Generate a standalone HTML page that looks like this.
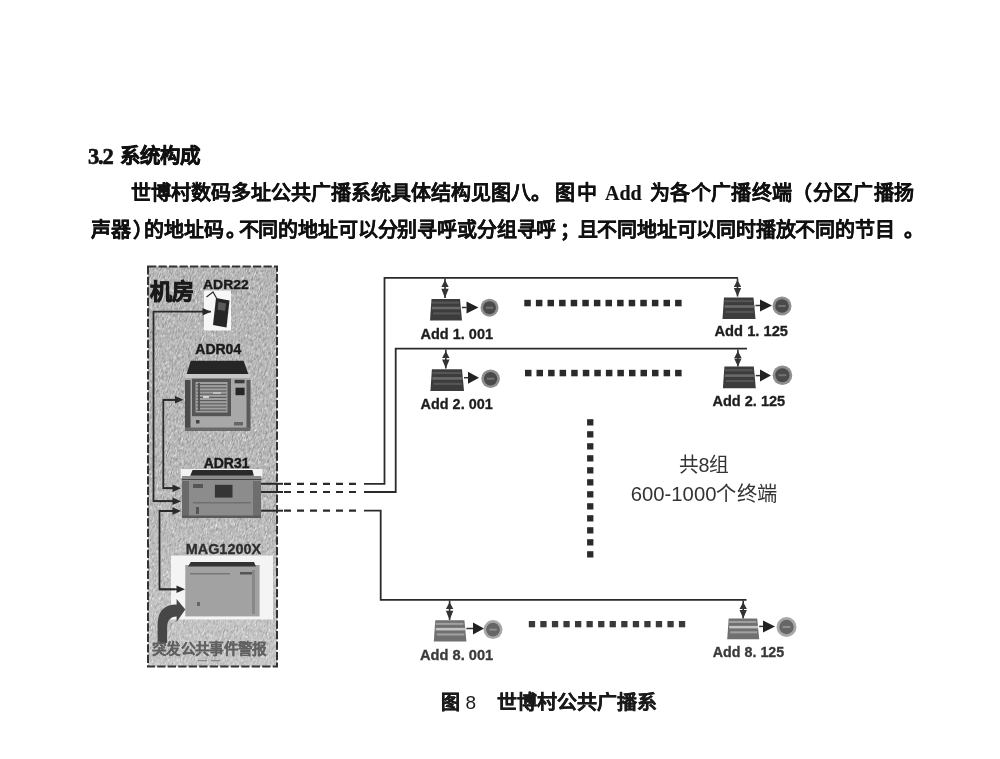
<!DOCTYPE html>
<html lang="zh-CN"><head><meta charset="utf-8">
<style>
html,body{margin:0;padding:0;background:#fff;}
body{width:1000px;height:759px;position:relative;overflow:hidden;filter:grayscale(1) blur(0.4px);font-family:"Liberation Serif",serif;color:#111;}
.t{position:absolute;white-space:nowrap;line-height:1;}
.h{font-weight:bold;font-size:20px;-webkit-text-stroke:0.6px #111;}
.b{font-weight:bold;font-size:20px;-webkit-text-stroke:0.2px #111;}
svg{position:absolute;left:0;top:0;}
</style></head><body>
<div class="t h" style="left:88px;top:146px;font-size:22.5px;letter-spacing:-1.2px;">3.2</div><div class="t h" style="left:119.5px;top:145.5px;font-size:20.5px;">系统构成</div>
<div class="t b" style="left:131px;top:183px;">世博村数码多址公共广播系统具体结构见图八。</div>
<div class="t b" style="left:555px;top:183px;letter-spacing:1.5px;">图中</div>
<div class="t b" style="left:605px;top:183px;">Add</div>
<div class="t b" style="left:650px;top:183px;letter-spacing:0.35px;">为各个广播终端（分区广播扬</div>
<div class="t b" style="left:91px;top:220px;">声器</div>
<div class="t b" style="left:133px;top:220px;">）</div>
<div class="t b" style="left:143.5px;top:220px;">的地址码</div>
<div class="t b" style="left:226px;top:220px;">。</div>
<div class="t b" style="left:238.5px;top:220px;letter-spacing:-0.14px;">不同的地址可以分别寻呼或分组寻呼</div>
<div class="t b" style="left:560px;top:220px;">；</div>
<div class="t b" style="left:577.5px;top:220px;letter-spacing:-0.2px;">且不同地址可以同时播放不同的节目</div>
<div class="t b" style="left:904px;top:220px;">。</div>
<svg width="1000" height="759" viewBox="0 0 1000 759">
<defs><clipPath id="boxclip"><rect x="148" y="266.5" width="129" height="400"/></clipPath><filter id="nz" x="0" y="0" width="100%" height="100%" color-interpolation-filters="sRGB"><feTurbulence type="fractalNoise" baseFrequency="0.9 0.3" numOctaves="2" seed="5"/><feColorMatrix type="matrix" values="0.33 0.33 0.33 0 0  0.33 0.33 0.33 0 0  0.33 0.33 0.33 0 0  0 0 0 0 1"/><feComponentTransfer><feFuncR type="linear" slope="1.0" intercept="0.22"/><feFuncG type="linear" slope="1.0" intercept="0.22"/><feFuncB type="linear" slope="1.0" intercept="0.22"/></feComponentTransfer></filter></defs>
<g clip-path="url(#boxclip)"><g transform="rotate(18 212 466)"><rect x="60" y="230" width="310" height="480" fill="#fff" filter="url(#nz)"/></g></g>
<linearGradient id="lg" x1="0" y1="0" x2="0" y2="1"><stop offset="0" stop-color="#fff" stop-opacity="0"/><stop offset="0.55" stop-color="#fff" stop-opacity="0.02"/><stop offset="1" stop-color="#fff" stop-opacity="0.22"/></linearGradient>
<rect x="148" y="266.5" width="129" height="400" fill="url(#lg)"/>
<rect x="148" y="266.5" width="129" height="400" fill="none" stroke="#333" stroke-width="2" stroke-dasharray="8.3,2.2"/>
<text x="150" y="299" font-family="Liberation Sans, sans-serif" font-weight="bold" font-size="22" fill="#1a1a1a" stroke="#1a1a1a" stroke-width="0.9">机房</text>
<text x="203" y="288.7" font-family="Liberation Sans, sans-serif" font-weight="bold" font-size="13.5" fill="#1a1a1a" stroke="#1a1a1a" stroke-width="0.4" textLength="45.7" lengthAdjust="spacingAndGlyphs">ADR22</text>
<rect x="204" y="290.5" width="27" height="40" fill="#f7f7f7"/>
<polygon points="216,298 229.5,300.5 226.5,327.5 213,325" fill="#262626"/>
<polygon points="218.5,302 226,303.5 225,311 217.5,309.5" fill="#5a5a5a"/>
<polyline points="206.5,297 213,292 217,299" fill="none" stroke="#333" stroke-width="1.3"/>
<text x="195.3" y="354.3" font-family="Liberation Sans, sans-serif" font-weight="bold" font-size="14" fill="#1a1a1a" stroke="#1a1a1a" stroke-width="0.4" textLength="45.9" lengthAdjust="spacingAndGlyphs">ADR04</text>
<rect x="185" y="374" width="65.4" height="57" fill="#a8a8a8"/>
<polygon points="190.8,360.8 243.6,360.8 248.3,374 186.6,374" fill="#262626"/>
<rect x="185" y="374" width="65.4" height="4" fill="#c8c8c8"/>
<rect x="185" y="380" width="5.5" height="49" fill="#4a4a4a"/>
<rect x="246.5" y="380" width="4" height="49" fill="#5a5a5a"/>
<rect x="185" y="427.5" width="65.4" height="3.5" fill="#6a6a6a"/>
<rect x="192" y="378.7" width="39" height="37.5" fill="#555"/>
<rect x="195.5" y="382" width="32" height="30.5" fill="#a0a0a0"/>
<rect x="196.5" y="384.0" width="30" height="1.2" fill="#5e5e5e"/>
<rect x="196.5" y="387.2" width="30" height="1.2" fill="#5e5e5e"/>
<rect x="196.5" y="390.4" width="30" height="1.2" fill="#5e5e5e"/>
<rect x="196.5" y="393.6" width="30" height="1.2" fill="#5e5e5e"/>
<rect x="196.5" y="396.8" width="30" height="1.2" fill="#5e5e5e"/>
<rect x="196.5" y="400.0" width="30" height="1.2" fill="#5e5e5e"/>
<rect x="196.5" y="403.2" width="30" height="1.2" fill="#5e5e5e"/>
<rect x="196.5" y="406.4" width="30" height="1.2" fill="#5e5e5e"/>
<rect x="196.5" y="409.6" width="30" height="1.2" fill="#5e5e5e"/>
<rect x="198" y="383" width="2" height="28" fill="#555"/>
<rect x="203" y="396" width="6" height="2" fill="#d0d0d0"/>
<rect x="213" y="392" width="8" height="2" fill="#c0c0c0"/>
<rect x="234.6" y="379.8" width="10" height="3.5" fill="#3a3a3a"/>
<rect x="235.5" y="387.7" width="9.1" height="7.5" fill="#262626"/>
<rect x="196" y="420" width="3.5" height="3.5" fill="#444"/>
<rect x="234" y="422" width="9" height="3.5" fill="#666"/>
<text x="203.7" y="467.5" font-family="Liberation Sans, sans-serif" font-weight="bold" font-size="14" fill="#1a1a1a" stroke="#1a1a1a" stroke-width="0.4" textLength="45.8" lengthAdjust="spacingAndGlyphs">ADR31</text>
<rect x="180.7" y="469" width="81.7" height="9" fill="#f2f2f2"/>
<polygon points="192.6,470 252.4,470 253.8,475.8 190.2,475.8" fill="#2a2a2a"/>
<rect x="182" y="476" width="79.4" height="4" fill="#8a8a8a"/>
<rect x="182" y="479" width="79.4" height="1.2" fill="#444"/>
<rect x="182" y="480" width="79" height="38" fill="#8c8c8c"/>
<rect x="182" y="481" width="7" height="37" fill="#6a6a6a"/>
<rect x="253" y="481" width="8" height="37" fill="#6e6e6e"/>
<rect x="193" y="484" width="10" height="4" fill="#555"/>
<rect x="214.9" y="484.8" width="17.6" height="12.8" fill="#353535"/>
<rect x="193" y="502" width="58" height="1.5" fill="#707070"/>
<rect x="196" y="507" width="3" height="7" fill="#555"/>
<rect x="182" y="515.5" width="79" height="2.5" fill="#5a5a5a"/>
<text x="185.8" y="554.1" font-family="Liberation Sans, sans-serif" font-weight="bold" font-size="14" fill="#2e2e2e" stroke="#2e2e2e" stroke-width="0.3" textLength="75.2" lengthAdjust="spacingAndGlyphs">MAG1200X</text>
<rect x="171" y="555.5" width="102" height="64" fill="#f4f4f4"/>
<rect x="185.3" y="565" width="74.3" height="51.4" fill="#a2a2a2"/>
<polygon points="190.8,561.9 254,561.9 256,566.6 188,566.6" fill="#333"/>
<rect x="190" y="573" width="40" height="1.5" fill="#777"/>
<rect x="240" y="572" width="12" height="2.5" fill="#555"/>
<rect x="252" y="570" width="3" height="44" fill="#888"/>
<rect x="197" y="602" width="3" height="4" fill="#666"/>
<path d="M157.6,643 L157.6,625 Q157.6,604.5 176.6,604.5 L176.6,599 L185.3,609.5 L176.6,622 L176.6,616.4 Q167.1,616.4 167.1,628 L167.1,643 Z" fill="#474747"/>
<text x="152" y="653.5" font-family="Liberation Sans, sans-serif" font-weight="bold" font-size="14.3" fill="#606060" stroke="#606060" stroke-width="0.15" textLength="114.5" lengthAdjust="spacingAndGlyphs">突发公共事件警报</text>
<line x1="198" y1="660.6" x2="207" y2="660.6" stroke="#888" stroke-width="1.2"/>
<line x1="211" y1="660.6" x2="220" y2="660.6" stroke="#888" stroke-width="1.2"/>
<polyline points="211,311.7 153.5,311.7 153.5,501.2 175,501.2" fill="none" stroke="#2a2a2a" stroke-width="1.8"/>
<polygon points="202.5,307.9 211,311.7 202.5,315.5" fill="#2a2a2a"/>
<line x1="153.5" y1="501.2" x2="174" y2="501.2" stroke="#2a2a2a" stroke-width="1.8"/><polygon points="172.5,497.4 181,501.2 172.5,505.0" fill="#2a2a2a"/>
<polyline points="175,399.8 163.3,399.8 163.3,488.2 175,488.2" fill="none" stroke="#2a2a2a" stroke-width="1.8"/>
<line x1="163.3" y1="399.8" x2="176.5" y2="399.8" stroke="#2a2a2a" stroke-width="1.8"/><polygon points="175.0,396.0 183.5,399.8 175.0,403.6" fill="#2a2a2a"/>
<line x1="163.3" y1="488.2" x2="174" y2="488.2" stroke="#2a2a2a" stroke-width="1.8"/><polygon points="172.5,484.4 181,488.2 172.5,492.0" fill="#2a2a2a"/>
<polyline points="175,511 159.5,511 159.5,589.3 175,589.3" fill="none" stroke="#2a2a2a" stroke-width="1.8"/>
<line x1="159.5" y1="511" x2="174" y2="511" stroke="#2a2a2a" stroke-width="1.8"/><polygon points="172.5,507.2 181,511 172.5,514.8" fill="#2a2a2a"/>
<line x1="159.5" y1="589.3" x2="178" y2="589.3" stroke="#2a2a2a" stroke-width="1.8"/><polygon points="176.5,585.5 185,589.3 176.5,593.0999999999999" fill="#2a2a2a"/>
<line x1="261" y1="483.8" x2="283" y2="483.8" stroke="#2a2a2a" stroke-width="2"/>
<line x1="284" y1="483.8" x2="358" y2="483.8" stroke="#2a2a2a" stroke-width="2.2" stroke-dasharray="7,6"/>
<polyline points="364,483.8 384.5,483.8 384.5,277.8 738,277.8" fill="none" stroke="#2a2a2a" stroke-width="1.8"/>
<line x1="261" y1="492" x2="283" y2="492" stroke="#2a2a2a" stroke-width="2"/>
<line x1="284" y1="492" x2="358" y2="492" stroke="#2a2a2a" stroke-width="2.2" stroke-dasharray="7,6"/>
<polyline points="364,492 395.7,492 395.7,348.7 747,348.7" fill="none" stroke="#2a2a2a" stroke-width="1.8"/>
<line x1="261" y1="510.7" x2="283" y2="510.7" stroke="#2a2a2a" stroke-width="2"/>
<line x1="284" y1="510.7" x2="358" y2="510.7" stroke="#2a2a2a" stroke-width="2.2" stroke-dasharray="7,6"/>
<polyline points="364,510.7 380.7,510.7 380.7,599.8 746.5,599.8" fill="none" stroke="#2a2a2a" stroke-width="1.8"/>
<line x1="445" y1="278.5" x2="445" y2="298" stroke="#333" stroke-width="1.6"/>
<polygon points="441.3,287.0 448.7,287.0 445,280.0" fill="#333"/>
<polygon points="441.3,288.75 448.7,288.75 445,298" fill="#333"/>
<polygon points="441.8,287.75 448.2,287.75 445,294.25" fill="#333" opacity="0"/>
<polygon points="431.5,299 460,299 462,320.5 430,320.5" fill="#3c3c3c"/>
<rect x="432" y="301.58" width="27" height="2.15" fill="#555"/>
<rect x="432" y="306.74" width="29" height="2.58" fill="#6a6a6a"/>
<rect x="433" y="312.33" width="27" height="2.15" fill="#555"/>
<line x1="462" y1="307.5" x2="466.5" y2="307.5" stroke="#333" stroke-width="1.5"/>
<polygon points="466.5,301.5 466.5,313.5 478.5,307.5" fill="#222"/>
<circle cx="489.5" cy="307.7" r="9" fill="#8e8e8e"/>
<circle cx="489.5" cy="307.7" r="6.4799999999999995" fill="#4a4a4a"/>
<rect x="485.9" y="306.7" width="7.2" height="2" fill="#8e8e8e" opacity="0.6"/>
<text x="420.5" y="339" font-family="Liberation Sans, sans-serif" font-weight="bold" font-size="14.5" fill="#1e1e1e" stroke="#1e1e1e" stroke-width="0.3" textLength="72.5" lengthAdjust="spacingAndGlyphs">Add 1. 001</text>
<line x1="737.5" y1="278.5" x2="737.5" y2="296.5" stroke="#333" stroke-width="1.6"/>
<polygon points="733.8,287.0 741.2,287.0 737.5,280.0" fill="#333"/>
<polygon points="733.8,288.0 741.2,288.0 737.5,296.5" fill="#333"/>
<polygon points="734.3,287.0 740.7,287.0 737.5,293.5" fill="#333" opacity="0"/>
<polygon points="724.0,297.5 753.5,297.5 755.5,319 722.5,319" fill="#3c3c3c"/>
<rect x="724.5" y="300.08" width="28.0" height="2.15" fill="#555"/>
<rect x="724.5" y="305.24" width="30.0" height="2.58" fill="#6a6a6a"/>
<rect x="725.5" y="310.83" width="28.0" height="2.15" fill="#555"/>
<line x1="755.5" y1="305.5" x2="760" y2="305.5" stroke="#333" stroke-width="1.5"/>
<polygon points="760,299.5 760,311.5 772,305.5" fill="#222"/>
<circle cx="782" cy="306" r="9.5" fill="#8e8e8e"/>
<circle cx="782" cy="306" r="6.84" fill="#4a4a4a"/>
<rect x="778.2" y="305" width="7.6000000000000005" height="2" fill="#8e8e8e" opacity="0.6"/>
<text x="714.5" y="336" font-family="Liberation Sans, sans-serif" font-weight="bold" font-size="14.5" fill="#1e1e1e" stroke="#1e1e1e" stroke-width="0.3" textLength="73.5" lengthAdjust="spacingAndGlyphs">Add 1. 125</text>
<line x1="445.8" y1="349.5" x2="445.8" y2="368.5" stroke="#333" stroke-width="1.6"/>
<polygon points="442.1,358.0 449.5,358.0 445.8,351.0" fill="#333"/>
<polygon points="442.1,359.5 449.5,359.5 445.8,368.5" fill="#333"/>
<polygon points="442.6,358.5 449.0,358.5 445.8,365.0" fill="#333" opacity="0"/>
<polygon points="431.9,369.3 462,369.3 464,391 430.4,391" fill="#3c3c3c"/>
<rect x="432.4" y="371.904" width="28.600000000000023" height="2.169999999999999" fill="#555"/>
<rect x="432.4" y="377.112" width="30.600000000000023" height="2.6039999999999988" fill="#6a6a6a"/>
<rect x="433.4" y="382.754" width="28.600000000000023" height="2.169999999999999" fill="#555"/>
<line x1="464" y1="377.7" x2="468" y2="377.7" stroke="#333" stroke-width="1.5"/>
<polygon points="468,371.7 468,383.7 479,377.7" fill="#222"/>
<circle cx="490.6" cy="378.7" r="9.3" fill="#8e8e8e"/>
<circle cx="490.6" cy="378.7" r="6.696000000000001" fill="#4a4a4a"/>
<rect x="486.88" y="377.7" width="7.440000000000001" height="2" fill="#8e8e8e" opacity="0.6"/>
<text x="420.6" y="408.5" font-family="Liberation Sans, sans-serif" font-weight="bold" font-size="14.5" fill="#1e1e1e" stroke="#1e1e1e" stroke-width="0.3" textLength="72.1" lengthAdjust="spacingAndGlyphs">Add 2. 001</text>
<line x1="737.9" y1="349.5" x2="737.9" y2="366.5" stroke="#333" stroke-width="1.6"/>
<polygon points="734.1999999999999,358.0 741.6,358.0 737.9,351.0" fill="#333"/>
<polygon points="734.1999999999999,358.5 741.6,358.5 737.9,366.5" fill="#333"/>
<polygon points="734.6999999999999,357.5 741.1,357.5 737.9,364.0" fill="#333" opacity="0"/>
<polygon points="724.4,366.5 753.8,366.5 755.8,388.2 722.9,388.2" fill="#3c3c3c"/>
<rect x="724.9" y="369.104" width="27.899999999999977" height="2.169999999999999" fill="#555"/>
<rect x="724.9" y="374.312" width="29.899999999999977" height="2.6039999999999988" fill="#6a6a6a"/>
<rect x="725.9" y="379.954" width="27.899999999999977" height="2.169999999999999" fill="#555"/>
<line x1="755.8" y1="375.6" x2="760" y2="375.6" stroke="#333" stroke-width="1.5"/>
<polygon points="760,369.6 760,381.6 771,375.6" fill="#222"/>
<circle cx="782.4" cy="375.2" r="9.8" fill="#8e8e8e"/>
<circle cx="782.4" cy="375.2" r="7.056" fill="#4a4a4a"/>
<rect x="778.48" y="374.2" width="7.840000000000001" height="2" fill="#8e8e8e" opacity="0.6"/>
<text x="712.4" y="405.7" font-family="Liberation Sans, sans-serif" font-weight="bold" font-size="14.5" fill="#1e1e1e" stroke="#1e1e1e" stroke-width="0.3" textLength="72.8" lengthAdjust="spacingAndGlyphs">Add 2. 125</text>
<line x1="449.6" y1="600.5" x2="449.6" y2="620" stroke="#333" stroke-width="1.6"/>
<polygon points="445.90000000000003,609.0 453.3,609.0 449.6,602.0" fill="#333"/>
<polygon points="445.90000000000003,610.75 453.3,610.75 449.6,620" fill="#333"/>
<polygon points="446.40000000000003,609.75 452.8,609.75 449.6,616.25" fill="#333" opacity="0"/>
<polygon points="435.3,620.2 464.4,620.2 466.4,641.5 433.8,641.5" fill="#707070"/>
<rect x="435.8" y="622.7560000000001" width="27.599999999999966" height="2.1299999999999955" fill="#a0a0a0"/>
<rect x="435.8" y="627.868" width="29.599999999999966" height="2.5559999999999943" fill="#c4c4c4"/>
<rect x="436.8" y="633.4060000000001" width="27.599999999999966" height="2.1299999999999955" fill="#a0a0a0"/>
<line x1="466.4" y1="628.5" x2="473" y2="628.5" stroke="#333" stroke-width="1.5"/>
<polygon points="473,622.5 473,634.5 484,628.5" fill="#222"/>
<circle cx="493" cy="629.6" r="9.5" fill="#a8a8a8"/>
<circle cx="493" cy="629.6" r="6.84" fill="#666"/>
<rect x="489.2" y="628.6" width="7.6000000000000005" height="2" fill="#a8a8a8" opacity="0.6"/>
<text x="420" y="660.2" font-family="Liberation Sans, sans-serif" font-weight="bold" font-size="14.5" fill="#3a3a3a" stroke="#3a3a3a" stroke-width="0.3" textLength="73.2" lengthAdjust="spacingAndGlyphs">Add 8. 001</text>
<line x1="743.2" y1="600.5" x2="743.2" y2="618.4" stroke="#333" stroke-width="1.6"/>
<polygon points="739.5,609.0 746.9000000000001,609.0 743.2,602.0" fill="#333"/>
<polygon points="739.5,609.95 746.9000000000001,609.95 743.2,618.4" fill="#333"/>
<polygon points="740.0,608.95 746.4000000000001,608.95 743.2,615.45" fill="#333" opacity="0"/>
<polygon points="728.7,618.4 757.2,618.4 759.2,639.2 727.2,639.2" fill="#707070"/>
<rect x="729.2" y="620.896" width="27.0" height="2.0800000000000067" fill="#a0a0a0"/>
<rect x="729.2" y="625.888" width="29.0" height="2.496000000000008" fill="#c4c4c4"/>
<rect x="730.2" y="631.296" width="27.0" height="2.0800000000000067" fill="#a0a0a0"/>
<line x1="759.2" y1="626.4" x2="763" y2="626.4" stroke="#333" stroke-width="1.5"/>
<polygon points="763,620.4 763,632.4 775,626.4" fill="#222"/>
<circle cx="786.5" cy="627" r="10" fill="#a8a8a8"/>
<circle cx="786.5" cy="627" r="7.199999999999999" fill="#666"/>
<rect x="782.5" y="626" width="8.0" height="2" fill="#a8a8a8" opacity="0.6"/>
<text x="712.8" y="656.8" font-family="Liberation Sans, sans-serif" font-weight="bold" font-size="14.5" fill="#3a3a3a" stroke="#3a3a3a" stroke-width="0.3" textLength="71.4" lengthAdjust="spacingAndGlyphs">Add 8. 125</text>
<rect x="524.3" y="299.8" width="6.5" height="6.5" fill="#2a2a2a"/>
<rect x="535.9" y="299.8" width="6.5" height="6.5" fill="#2a2a2a"/>
<rect x="547.5" y="299.8" width="6.5" height="6.5" fill="#2a2a2a"/>
<rect x="559.1" y="299.8" width="6.5" height="6.5" fill="#2a2a2a"/>
<rect x="570.7" y="299.8" width="6.5" height="6.5" fill="#2a2a2a"/>
<rect x="582.3" y="299.8" width="6.5" height="6.5" fill="#2a2a2a"/>
<rect x="593.9" y="299.8" width="6.5" height="6.5" fill="#2a2a2a"/>
<rect x="605.5" y="299.8" width="6.5" height="6.5" fill="#2a2a2a"/>
<rect x="617.1" y="299.8" width="6.5" height="6.5" fill="#2a2a2a"/>
<rect x="628.7" y="299.8" width="6.5" height="6.5" fill="#2a2a2a"/>
<rect x="640.3" y="299.8" width="6.5" height="6.5" fill="#2a2a2a"/>
<rect x="651.9" y="299.8" width="6.5" height="6.5" fill="#2a2a2a"/>
<rect x="663.5" y="299.8" width="6.5" height="6.5" fill="#2a2a2a"/>
<rect x="675.1" y="299.8" width="6.5" height="6.5" fill="#2a2a2a"/>
<rect x="525.0" y="369.8" width="6.5" height="6.5" fill="#2a2a2a"/>
<rect x="536.5" y="369.8" width="6.5" height="6.5" fill="#2a2a2a"/>
<rect x="548.1" y="369.8" width="6.5" height="6.5" fill="#2a2a2a"/>
<rect x="559.6" y="369.8" width="6.5" height="6.5" fill="#2a2a2a"/>
<rect x="571.2" y="369.8" width="6.5" height="6.5" fill="#2a2a2a"/>
<rect x="582.8" y="369.8" width="6.5" height="6.5" fill="#2a2a2a"/>
<rect x="594.3" y="369.8" width="6.5" height="6.5" fill="#2a2a2a"/>
<rect x="605.9" y="369.8" width="6.5" height="6.5" fill="#2a2a2a"/>
<rect x="617.4" y="369.8" width="6.5" height="6.5" fill="#2a2a2a"/>
<rect x="629.0" y="369.8" width="6.5" height="6.5" fill="#2a2a2a"/>
<rect x="640.5" y="369.8" width="6.5" height="6.5" fill="#2a2a2a"/>
<rect x="652.0" y="369.8" width="6.5" height="6.5" fill="#2a2a2a"/>
<rect x="663.6" y="369.8" width="6.5" height="6.5" fill="#2a2a2a"/>
<rect x="675.1" y="369.8" width="6.5" height="6.5" fill="#2a2a2a"/>
<rect x="528.8" y="621" width="6.3" height="6.3" fill="#3a3a3a"/>
<rect x="540.3" y="621" width="6.3" height="6.3" fill="#3a3a3a"/>
<rect x="551.9" y="621" width="6.3" height="6.3" fill="#3a3a3a"/>
<rect x="563.4" y="621" width="6.3" height="6.3" fill="#3a3a3a"/>
<rect x="575.0" y="621" width="6.3" height="6.3" fill="#3a3a3a"/>
<rect x="586.5" y="621" width="6.3" height="6.3" fill="#3a3a3a"/>
<rect x="598.1" y="621" width="6.3" height="6.3" fill="#3a3a3a"/>
<rect x="609.6" y="621" width="6.3" height="6.3" fill="#3a3a3a"/>
<rect x="621.2" y="621" width="6.3" height="6.3" fill="#3a3a3a"/>
<rect x="632.8" y="621" width="6.3" height="6.3" fill="#3a3a3a"/>
<rect x="644.3" y="621" width="6.3" height="6.3" fill="#3a3a3a"/>
<rect x="655.8" y="621" width="6.3" height="6.3" fill="#3a3a3a"/>
<rect x="667.4" y="621" width="6.3" height="6.3" fill="#3a3a3a"/>
<rect x="678.9" y="621" width="6.3" height="6.3" fill="#3a3a3a"/>
<rect x="587.1" y="419.2" width="6.3" height="6.3" fill="#2a2a2a"/>
<rect x="587.1" y="431.2" width="6.3" height="6.3" fill="#2a2a2a"/>
<rect x="587.1" y="443.2" width="6.3" height="6.3" fill="#2a2a2a"/>
<rect x="587.1" y="455.2" width="6.3" height="6.3" fill="#2a2a2a"/>
<rect x="587.1" y="467.2" width="6.3" height="6.3" fill="#2a2a2a"/>
<rect x="587.1" y="479.2" width="6.3" height="6.3" fill="#2a2a2a"/>
<rect x="587.1" y="491.2" width="6.3" height="6.3" fill="#2a2a2a"/>
<rect x="587.1" y="503.2" width="6.3" height="6.3" fill="#2a2a2a"/>
<rect x="587.1" y="515.2" width="6.3" height="6.3" fill="#2a2a2a"/>
<rect x="587.1" y="527.2" width="6.3" height="6.3" fill="#2a2a2a"/>
<rect x="587.1" y="539.2" width="6.3" height="6.3" fill="#2a2a2a"/>
<rect x="587.1" y="551.2" width="6.3" height="6.3" fill="#2a2a2a"/>
<text x="678.8" y="472" font-family="Liberation Sans, sans-serif" font-size="20" fill="#333" textLength="50.4" lengthAdjust="spacingAndGlyphs">共8组</text>
<text x="630.8" y="500.5" font-family="Liberation Sans, sans-serif" font-size="20" fill="#333" textLength="146.4" lengthAdjust="spacingAndGlyphs">600-1000个终端</text>
<text x="440.8" y="709" font-family="Liberation Sans, sans-serif" font-weight="bold" font-size="19" fill="#1a1a1a" stroke="#1a1a1a" stroke-width="0.5">图</text>
<text x="465.5" y="709" font-family="Liberation Sans, sans-serif" font-size="19" fill="#1a1a1a">8</text>
<text x="497.2" y="709" font-family="Liberation Sans, sans-serif" font-weight="bold" font-size="19" fill="#1a1a1a" stroke="#1a1a1a" stroke-width="0.35" textLength="159.6" lengthAdjust="spacingAndGlyphs">世博村公共广播系</text>
</svg>
</body></html>
